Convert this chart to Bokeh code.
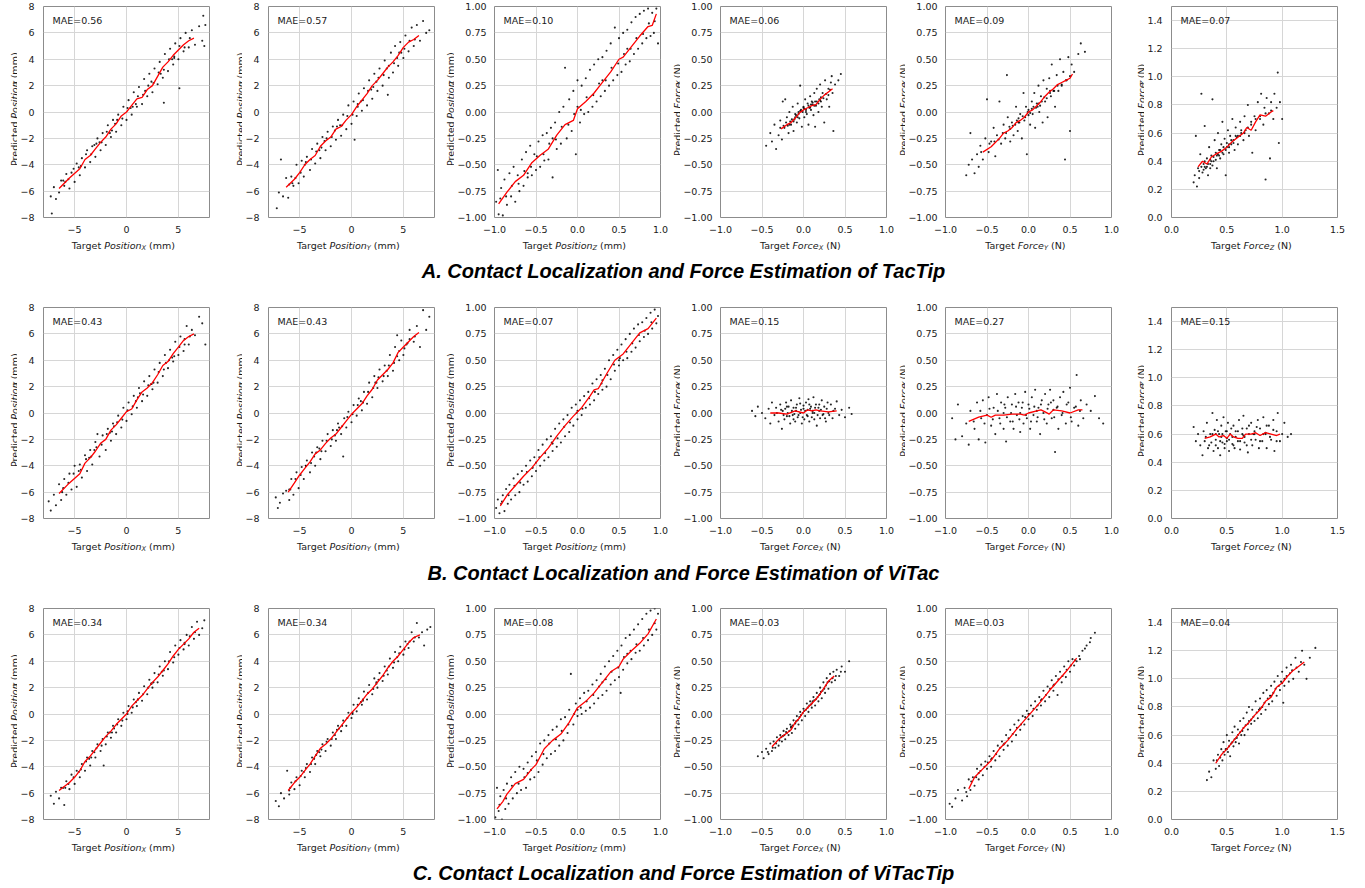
import math
from bokeh.plotting import figure
from bokeh.layouts import column, row
from bokeh.models import Range1d, FixedTicker, CustomJSTickFormatter, Label, ColumnDataSource
from bokeh.embed import file_html
from bokeh.resources import INLINE
from bokeh.core.properties import value

# ---------------- data ----------------
ROW_TITLES = ["A. Contact Localization and Force Estimation of TacTip",
              "B. Contact Localization and Force Estimation of ViTac",
              "C. Contact Localization and Force Estimation of ViTacTip"]
PANEL_KINDS = ["px", "py", "pz", "fx", "fy", "fz"]
MAE_TACTIP = [0.56, 0.57, 0.10, 0.06, 0.09, 0.07]
MAE_VITAC = [0.43, 0.43, 0.07, 0.15, 0.27, 0.15]
MAE_VITACTIP = [0.34, 0.34, 0.08, 0.03, 0.03, 0.04]

A_PX = [(-7.3,-6.4),(-7.0,-5.7),(-6.8,-6.6),(-6.5,-6.1),(-6.3,-5.2),(-6.0,-5.6),(-5.8,-4.7),(-5.5,-5.8),(-5.3,-4.6),(-5.0,-5.3),(-4.8,-3.9),(-4.5,-4.8),(-4.3,-3.5),(-4.0,-4.2),(-3.8,-2.9),(-3.5,-3.8),(-3.3,-2.6),(-3.0,-3.4),(-2.8,-2.0),(-2.5,-2.9),(-2.3,-1.6),(-2.0,-2.5),(-1.8,-1.0),(-1.5,-1.9),(-1.3,-0.6),(-1.0,-1.5),(-0.8,-0.2),(-0.5,-1.0),(-0.3,0.4),(0.0,-0.6),(0.2,0.9),(0.5,-0.2),(0.7,1.5),(1.0,0.4),(1.2,1.9),(1.5,0.6),(1.7,2.5),(2.0,1.2),(2.2,2.9),(2.5,1.5),(2.7,3.3),(3.0,2.1),(3.2,3.8),(3.5,2.6),(3.7,4.4),(4.0,3.1),(4.2,4.8),(4.5,3.6),(4.7,5.2),(5.0,4.0),(5.2,5.6),(5.5,4.6),(5.7,6.0),(6.0,4.9),(6.3,6.2),(6.6,5.1),(7.0,6.5),(7.3,5.4),(7.6,6.6),(5.1,1.8),(3.6,0.7),(7.5,5.0),(7.4,7.3),(-7.2,-7.7),(-2.6,-2.3),(-1.1,-0.9),(0.4,0.3),(1.8,1.6),(3.3,2.9),(4.6,4.2),(-4.6,-4.2),(-5.9,-5.3)]
A_PX_CORE = [(-6.1,-5.2),(-5.6,-5.1),(-5.1,-4.3),(-4.4,-4.1),(-3.9,-3.2),(-3.4,-3.2),(-2.9,-2.4),(-2.4,-2.3),(-1.9,-1.5),(-1.4,-1.4),(-0.9,-0.6),(-0.4,-0.5),(0.1,0.3),(0.6,0.4),(1.1,1.2),(1.6,1.3),(2.1,2.0),(2.6,2.2),(3.1,3.0),(3.6,3.2),(4.1,4.0),(4.6,4.1),(5.1,5.0),(5.6,4.9),(6.1,5.6),(-3.1,-2.5),(-1.6,-1.6),(0.9,0.6),(2.4,2.3),(4.4,4.0)]
A_PX_T = [(-6.5,-5.8),(-5.5,-5.0),(-4.5,-4.3),(-4.0,-3.6),(-3.5,-3.3),(-3.0,-2.8),(-2.5,-2.3),(-2.0,-1.9),(-1.5,-1.3),(-1.0,-0.9),(-0.5,-0.3),(0.0,0.0),(0.5,0.5),(1.0,1.0),(1.5,1.1),(2.0,1.7),(2.5,2.0),(3.0,2.7),(3.5,3.4),(4.0,3.8),(4.5,4.3),(5.0,4.7),(5.5,5.1),(6.0,5.4),(6.5,5.6)]
A_PY = [(-7.2,-7.3),(-7.0,-6.1),(-6.8,-3.6),(-6.6,-6.4),(-6.3,-5.0),(-6.1,-6.5),(-5.8,-4.9),(-5.6,-5.6),(-5.3,-4.0),(-5.1,-5.4),(-4.8,-3.7),(-4.6,-4.9),(-4.3,-3.4),(-4.0,-4.4),(-3.8,-2.8),(-3.5,-3.9),(-3.3,-2.4),(-3.0,-3.5),(-2.8,-1.9),(-2.5,-2.9),(-2.3,-1.5),(-2.0,-2.6),(-1.8,-1.1),(-1.5,-2.1),(-1.3,-0.6),(-1.0,-1.8),(-0.8,-0.2),(-0.5,-1.3),(-0.3,0.5),(0.0,-0.9),(0.3,-2.1),(0.2,0.8),(0.5,-0.3),(0.7,1.4),(1.0,0.1),(1.2,1.8),(1.5,0.5),(1.7,2.4),(2.0,1.0),(2.2,2.9),(2.5,1.6),(2.7,3.3),(3.0,2.0),(3.2,3.9),(3.5,1.3),(3.6,2.6),(3.8,4.5),(4.0,3.0),(4.2,5.0),(4.5,3.5),(4.7,5.3),(5.0,4.1),(5.2,5.8),(5.5,4.6),(5.8,6.4),(6.0,5.0),(6.3,6.6),(6.6,5.4),(6.9,6.9),(7.2,6.0),(7.5,6.2),(-2.6,-2.2),(-1.1,-1.0),(0.6,0.4),(1.9,1.7),(3.4,3.3),(4.8,4.5),(-4.5,-4.0),(-5.7,-5.4)]
A_PY_CORE = [(-6.0,-5.5),(-5.4,-5.0),(-4.9,-4.6),(-4.4,-3.8),(-3.9,-3.6),(-3.4,-3.0),(-2.9,-2.7),(-2.4,-2.0),(-1.9,-1.9),(-1.4,-1.1),(-0.9,-1.0),(-0.4,-0.3),(0.1,-0.2),(0.6,0.6),(1.1,0.9),(1.6,1.6),(2.1,1.9),(2.6,2.6),(3.1,2.8),(3.6,3.5),(4.1,3.7),(4.6,4.5),(5.1,4.8),(5.6,5.4),(6.1,5.5),(-3.1,-2.9),(-1.6,-1.4),(0.9,0.8),(2.4,2.3),(4.4,4.1)]
A_PY_T = [(-6.3,-5.7),(-5.5,-5.1),(-5.0,-4.6),(-4.5,-4.0),(-4.0,-3.6),(-3.5,-3.3),(-3.0,-2.6),(-2.5,-2.2),(-2.0,-1.9),(-1.5,-1.3),(-1.0,-1.1),(-0.5,-0.6),(0.0,-0.2),(0.5,0.4),(1.0,0.9),(1.5,1.4),(2.0,2.0),(2.5,2.4),(3.0,2.9),(3.5,3.4),(4.0,3.8),(4.5,4.3),(5.0,4.9),(5.5,5.3),(6.0,5.5),(6.5,5.8)]
A_PZ = [(-0.98,-0.85),(-0.96,-0.55),(-0.95,-0.97),(-0.92,-0.72),(-0.9,-0.98),(-0.88,-0.64),(-0.85,-0.88),(-0.82,-0.58),(-0.8,-0.8),(-0.77,-0.52),(-0.75,-0.85),(-0.72,-0.6),(-0.7,-0.75),(-0.67,-0.45),(-0.65,-0.7),(-0.62,-0.38),(-0.6,-0.62),(-0.57,-0.32),(-0.55,-0.6),(-0.52,-0.4),(-0.5,-0.55),(-0.47,-0.28),(-0.45,-0.52),(-0.42,-0.22),(-0.4,-0.46),(-0.37,-0.2),(-0.35,-0.45),(-0.32,-0.15),(-0.3,-0.62),(-0.27,-0.1),(-0.25,-0.35),(-0.22,0.0),(-0.2,-0.3),(-0.17,0.05),(-0.15,0.42),(-0.13,-0.25),(-0.1,0.12),(-0.07,-0.18),(-0.05,0.2),(-0.02,-0.4),(0.0,0.3),(0.03,-0.1),(0.05,0.25),(0.08,-0.02),(0.1,0.32),(0.13,0.0),(0.15,0.4),(0.18,0.05),(0.2,0.45),(0.23,0.1),(0.25,0.5),(0.28,0.15),(0.3,0.52),(0.33,0.2),(0.35,0.58),(0.38,0.25),(0.4,0.65),(0.43,0.3),(0.45,0.8),(0.48,0.35),(0.5,0.7),(0.53,0.38),(0.55,0.75),(0.58,0.45),(0.6,0.78),(0.63,0.48),(0.65,0.85),(0.68,0.55),(0.7,0.9),(0.73,0.6),(0.75,0.93),(0.78,0.65),(0.8,0.96),(0.83,0.7),(0.85,0.98),(0.88,0.72),(0.9,0.94),(0.92,0.75),(0.95,0.98),(0.97,0.65)]
A_PZ_CORE = [(-0.93,-0.82),(-0.86,-0.8),(-0.79,-0.7),(-0.71,-0.68),(-0.64,-0.56),(-0.56,-0.52),(-0.49,-0.42),(-0.41,-0.4),(-0.34,-0.3),(-0.26,-0.26),(-0.19,-0.14),(-0.11,-0.12),(-0.04,-0.02),(0.04,0.02),(0.11,0.14),(0.19,0.16),(0.26,0.27),(0.34,0.3),(0.41,0.42),(0.49,0.46),(0.56,0.55),(0.64,0.6),(0.71,0.7),(0.79,0.74),(0.86,0.84),(0.93,0.86),(-0.6,-0.58),(-0.3,-0.25),(0.0,0.05),(0.3,0.3),(0.6,0.6)]
A_PZ_T = [(-0.95,-0.87),(-0.85,-0.76),(-0.75,-0.66),(-0.65,-0.6),(-0.55,-0.48),(-0.45,-0.41),(-0.35,-0.35),(-0.25,-0.22),(-0.15,-0.12),(-0.05,-0.08),(0.0,0.03),(0.1,0.1),(0.2,0.18),(0.3,0.28),(0.4,0.38),(0.5,0.5),(0.55,0.52),(0.65,0.62),(0.75,0.72),(0.85,0.81),(0.9,0.82),(0.95,0.93)]
A_FX = [(-0.45,-0.32),(-0.4,-0.2),(-0.38,-0.28),(-0.35,-0.12),(-0.33,-0.35),(-0.3,-0.22),(-0.28,-0.08),(-0.26,-0.26),(-0.25,0.1),(-0.23,-0.15),(-0.2,-0.05),(-0.18,-0.2),(-0.17,0.0),(-0.15,-0.12),(-0.13,0.05),(-0.12,-0.18),(-0.1,-0.02),(-0.08,-0.1),(-0.07,0.08),(-0.05,-0.06),(-0.04,0.25),(-0.03,0.02),(-0.02,-0.14),(0.0,0.05),(0.01,-0.05),(0.02,0.12),(0.04,-0.02),(0.05,0.08),(0.06,-0.12),(0.08,0.15),(0.09,0.02),(0.1,0.1),(0.12,-0.03),(0.13,0.18),(0.15,0.06),(0.16,0.22),(0.18,0.0),(0.19,0.12),(0.2,0.26),(0.22,0.05),(0.23,0.18),(0.25,-0.1),(0.26,0.3),(0.28,0.12),(0.3,0.22),(0.31,0.05),(0.33,0.28),(0.35,0.18),(0.36,-0.18),(0.38,0.26),(0.42,0.3),(0.45,0.36),(0.34,0.34),(-0.22,0.12),(0.14,-0.14),(-0.06,0.0),(0.07,0.04),(0.11,0.07),(-0.11,-0.07),(0.21,0.1),(-0.16,-0.09),(0.03,0.0)]
A_FX_CORE = [(-0.28,-0.15),(-0.24,-0.13),(-0.21,-0.1),(-0.19,-0.13),(-0.14,-0.07),(-0.12,-0.09),(-0.09,-0.03),(-0.07,-0.05),(-0.04,0.01),(-0.01,0.0),(0.01,0.03),(0.03,0.02),(0.06,0.06),(0.08,0.04),(0.11,0.09),(0.13,0.06),(0.16,0.1),(0.18,0.08),(0.21,0.14),(0.24,0.13),(0.27,0.17),(0.3,0.16),(0.32,0.21),(-0.17,-0.12),(0.0,0.04),(0.14,0.1),(-0.06,-0.02),(0.09,0.07),(0.2,0.11),(-0.1,-0.05)]
A_FX_T = [(-0.27,-0.16),(-0.2,-0.12),(-0.15,-0.1),(-0.1,-0.06),(-0.05,-0.01),(0.0,0.02),(0.05,0.04),(0.1,0.06),(0.15,0.07),(0.2,0.12),(0.25,0.16),(0.3,0.19),(0.35,0.22)]
A_FY = [(-0.75,-0.6),(-0.72,-0.5),(-0.7,-0.2),(-0.68,-0.45),(-0.65,-0.58),(-0.62,-0.4),(-0.6,-0.52),(-0.58,-0.32),(-0.55,-0.45),(-0.52,-0.25),(-0.5,0.12),(-0.48,-0.38),(-0.45,-0.28),(-0.42,-0.15),(-0.4,-0.42),(-0.38,-0.22),(-0.35,0.1),(-0.33,-0.3),(-0.3,-0.12),(-0.28,-0.25),(-0.26,0.35),(-0.25,-0.05),(-0.22,-0.28),(-0.2,-0.1),(-0.18,-0.22),(-0.15,0.05),(-0.13,-0.18),(-0.1,-0.02),(-0.08,-0.25),(-0.06,0.18),(-0.05,-0.08),(-0.03,0.05),(-0.02,-0.4),(0.0,0.02),(0.02,-0.12),(0.04,0.1),(0.05,-0.02),(0.07,0.18),(0.08,-0.15),(0.1,0.08),(0.12,0.25),(0.13,0.0),(0.15,0.15),(0.17,-0.1),(0.18,0.3),(0.2,0.1),(0.22,0.22),(0.23,-0.05),(0.25,0.32),(0.27,0.15),(0.28,0.45),(0.3,0.2),(0.32,0.05),(0.34,0.35),(0.36,0.2),(0.38,0.5),(0.4,0.25),(0.42,0.38),(0.44,-0.45),(0.46,0.3),(0.48,0.52),(0.5,-0.18),(0.52,0.45),(0.55,0.38),(0.6,0.55),(0.63,0.65),(0.68,0.57),(-0.12,-0.1),(0.0,-0.03),(0.11,0.05),(-0.22,-0.16),(0.26,0.18)]
A_FY_CORE = [(-0.57,-0.38),(-0.47,-0.3),(-0.41,-0.28),(-0.36,-0.26),(-0.31,-0.2),(-0.27,-0.2),(-0.23,-0.14),(-0.19,-0.13),(-0.16,-0.12),(-0.14,-0.08),(-0.11,-0.1),(-0.07,-0.04),(-0.04,-0.05),(-0.01,0.0),(0.02,-0.01),(0.06,0.05),(0.09,0.04),(0.12,0.08),(0.16,0.1),(0.19,0.14),(0.22,0.13),(0.26,0.2),(0.31,0.2),(0.35,0.25),(0.4,0.26),(0.45,0.3),(0.5,0.34),(-0.12,-0.06),(0.04,0.03),(0.14,0.06)]
A_FY_T = [(-0.55,-0.38),(-0.45,-0.33),(-0.35,-0.25),(-0.3,-0.2),(-0.25,-0.18),(-0.2,-0.15),(-0.15,-0.1),(-0.1,-0.08),(-0.05,-0.05),(0.0,0.0),(0.05,0.02),(0.1,0.06),(0.15,0.1),(0.2,0.15),(0.25,0.19),(0.3,0.22),(0.35,0.26),(0.4,0.28),(0.45,0.3),(0.5,0.32),(0.53,0.36)]
A_FZ = [(0.2,0.25),(0.21,0.3),(0.22,0.58),(0.23,0.22),(0.24,0.35),(0.25,0.28),(0.26,0.45),(0.27,0.88),(0.28,0.32),(0.29,0.38),(0.3,0.65),(0.31,0.35),(0.32,0.42),(0.33,0.3),(0.34,0.5),(0.35,0.38),(0.36,0.44),(0.37,0.84),(0.38,0.4),(0.39,0.55),(0.4,0.46),(0.41,0.35),(0.42,0.6),(0.43,0.48),(0.44,0.42),(0.45,0.52),(0.46,0.68),(0.47,0.45),(0.48,0.56),(0.49,0.3),(0.5,0.5),(0.51,0.62),(0.52,0.46),(0.53,0.58),(0.54,0.52),(0.55,0.7),(0.56,0.55),(0.57,0.48),(0.58,0.64),(0.59,0.57),(0.6,0.52),(0.62,0.68),(0.63,0.6),(0.65,0.55),(0.66,0.72),(0.67,0.62),(0.69,0.8),(0.7,0.58),(0.72,0.68),(0.73,0.46),(0.75,0.72),(0.76,0.62),(0.78,0.82),(0.8,0.7),(0.81,0.88),(0.83,0.66),(0.84,0.78),(0.85,0.27),(0.86,0.85),(0.88,0.74),(0.89,0.42),(0.9,0.82),(0.92,0.7),(0.93,0.88),(0.95,0.78),(0.96,1.03),(0.97,0.53),(0.98,0.82),(1.0,0.7),(0.3,0.36),(0.35,0.41),(0.42,0.45),(0.52,0.5),(0.62,0.58)]
A_FZ_CORE = [(0.25,0.33),(0.27,0.36),(0.29,0.34),(0.3,0.4),(0.32,0.36),(0.33,0.38),(0.35,0.35),(0.36,0.4),(0.37,0.37),(0.38,0.43),(0.4,0.41),(0.41,0.44),(0.43,0.44),(0.44,0.48),(0.46,0.46),(0.47,0.5),(0.49,0.48),(0.5,0.53),(0.52,0.52),(0.54,0.55),(0.56,0.53),(0.58,0.58),(0.6,0.58),(0.63,0.62),(0.66,0.6),(0.69,0.64),(0.72,0.66),(0.76,0.7),(0.8,0.72),(0.85,0.74),(0.9,0.76)]
A_FZ_T = [(0.24,0.36),(0.28,0.4),(0.32,0.38),(0.36,0.43),(0.4,0.45),(0.45,0.47),(0.5,0.5),(0.55,0.54),(0.6,0.57),(0.65,0.6),(0.68,0.64),(0.72,0.62),(0.76,0.68),(0.8,0.73),(0.85,0.72),(0.9,0.75),(0.92,0.76)]

B_PX = [(-7.5,-6.7),(-7.3,-7.4),(-7.0,-6.2),(-6.8,-7.0),(-6.5,-5.4),(-6.3,-6.6),(-6.0,-5.0),(-5.8,-6.2),(-5.5,-4.6),(-5.3,-5.8),(-5.0,-4.0),(-4.8,-5.6),(-4.5,-3.9),(-4.3,-4.9),(-4.0,-3.2),(-3.8,-4.4),(-3.5,-2.8),(-3.3,-3.9),(-3.0,-2.2),(-2.8,-1.6),(-2.6,-3.3),(-2.3,-1.7),(-2.0,-2.8),(-1.8,-1.2),(-1.5,-2.1),(-1.3,-0.8),(-1.0,-1.6),(-0.8,-0.2),(-0.5,-1.1),(-0.3,0.4),(0.0,-0.6),(0.2,0.8),(0.5,-0.1),(0.7,1.3),(1.0,0.4),(1.2,1.9),(1.5,0.9),(1.7,2.4),(2.0,1.3),(2.2,2.8),(2.5,1.8),(2.7,3.3),(3.0,2.3),(3.2,3.8),(3.5,2.8),(3.7,4.4),(4.0,3.4),(4.2,4.8),(4.5,3.9),(4.7,5.4),(5.0,4.4),(5.2,5.8),(5.5,4.7),(5.8,6.6),(6.0,5.2),(6.3,6.3),(6.6,5.9),(7.0,7.3),(7.3,6.8),(7.6,5.2),(-6.2,-6.0),(-3.6,-3.4),(-1.2,-1.0),(1.3,1.5),(3.8,3.8),(5.6,5.6),(-4.6,-4.4),(2.4,2.2)]
B_PX_CORE = [(-6.1,-5.7),(-5.6,-5.3),(-5.1,-4.6),(-4.4,-4.3),(-3.9,-3.5),(-3.4,-3.3),(-2.9,-2.6),(-2.4,-2.4),(-1.9,-1.6),(-1.4,-1.4),(-0.9,-0.7),(-0.4,-0.5),(0.1,0.2),(0.6,0.5),(1.1,1.2),(1.6,1.4),(2.1,2.1),(2.6,2.3),(3.1,3.1),(3.6,3.3),(4.1,4.0),(4.6,4.3),(5.1,5.0),(5.6,5.2),(6.1,5.8),(-3.1,-2.8),(-1.6,-1.5),(0.9,0.9),(2.4,2.2),(4.4,4.2)]
B_PX_T = [(-6.5,-6.1),(-5.5,-5.3),(-4.5,-4.6),(-4.0,-3.8),(-3.5,-3.4),(-3.0,-2.9),(-2.5,-2.3),(-2.0,-2.0),(-1.5,-1.3),(-1.0,-0.9),(-0.5,-0.4),(0.0,0.1),(0.5,0.3),(1.0,1.0),(1.5,1.6),(2.0,1.9),(2.5,2.3),(3.0,2.9),(3.5,3.6),(4.0,3.9),(4.5,4.5),(5.0,5.0),(5.5,5.5),(6.0,5.8),(6.5,6.0)]
B_PY = [(-7.3,-6.4),(-7.1,-7.2),(-6.9,-6.8),(-6.6,-6.1),(-6.3,-5.9),(-6.0,-6.6),(-5.8,-5.0),(-5.6,-6.2),(-5.3,-4.5),(-5.1,-5.7),(-4.8,-4.1),(-4.6,-5.0),(-4.3,-3.6),(-4.0,-4.5),(-3.8,-3.0),(-3.5,-4.0),(-3.3,-2.6),(-3.0,-3.5),(-2.8,-2.1),(-2.5,-2.9),(-2.3,-1.6),(-2.0,-2.5),(-1.8,-1.3),(-1.5,-2.1),(-1.3,-0.8),(-1.0,-1.6),(-0.8,-3.3),(-0.7,-0.4),(-0.5,-1.1),(-0.3,0.1),(0.0,-0.7),(0.2,0.6),(0.5,-0.2),(0.7,1.1),(1.0,0.2),(1.2,1.6),(1.5,0.7),(1.7,2.3),(2.0,1.2),(2.2,2.8),(2.5,1.9),(2.7,3.3),(3.0,2.4),(3.2,3.6),(3.5,2.8),(3.7,4.4),(4.0,3.2),(4.2,5.0),(4.4,5.9),(4.6,4.0),(4.8,5.5),(5.0,4.4),(5.3,5.2),(5.6,6.3),(6.0,5.4),(6.3,6.6),(6.6,5.0),(6.9,7.8),(7.2,6.3),(7.5,7.3),(-5.9,-5.8),(-3.6,-3.3),(-1.2,-1.1),(1.1,0.8),(3.4,3.2),(5.4,5.3),(-4.4,-4.0),(2.3,2.3)]
B_PY_CORE = [(-6.0,-5.8),(-5.4,-5.0),(-4.9,-4.7),(-4.4,-4.0),(-3.9,-3.8),(-3.4,-3.0),(-2.9,-2.9),(-2.4,-2.1),(-1.9,-2.0),(-1.4,-1.3),(-0.9,-1.0),(-0.4,-0.3),(0.1,-0.1),(0.6,0.6),(1.1,0.8),(1.6,1.6),(2.1,1.9),(2.6,2.7),(3.1,2.8),(3.6,3.6),(4.1,3.8),(4.6,4.7),(5.1,4.9),(5.6,5.6),(6.1,5.8),(-3.1,-2.7),(-1.6,-1.7),(0.9,0.9),(2.4,2.3),(4.4,4.3)]
B_PY_T = [(-6.1,-6.0),(-5.5,-5.3),(-5.0,-4.7),(-4.5,-4.2),(-4.0,-3.7),(-3.5,-3.1),(-3.0,-2.8),(-2.5,-2.3),(-2.0,-1.9),(-1.5,-1.6),(-1.0,-1.1),(-0.5,-0.6),(0.0,-0.1),(0.5,0.3),(1.0,0.7),(1.5,1.3),(2.0,1.8),(2.5,2.5),(3.0,2.9),(3.5,3.3),(4.0,3.8),(4.5,4.6),(5.0,5.0),(5.5,5.4),(6.0,5.8),(6.5,6.1)]
B_PZ = [(-0.98,-0.9),(-0.96,-0.82),(-0.94,-0.95),(-0.92,-0.86),(-0.9,-0.78),(-0.88,-0.93),(-0.86,-0.72),(-0.84,-0.86),(-0.82,-0.68),(-0.8,-0.82),(-0.77,-0.62),(-0.75,-0.78),(-0.72,-0.58),(-0.7,-0.75),(-0.67,-0.55),(-0.65,-0.68),(-0.62,-0.5),(-0.6,-0.65),(-0.57,-0.45),(-0.55,-0.6),(-0.52,-0.42),(-0.5,-0.55),(-0.47,-0.35),(-0.45,-0.5),(-0.42,-0.3),(-0.4,-0.45),(-0.37,-0.25),(-0.35,-0.42),(-0.32,-0.22),(-0.3,-0.36),(-0.27,-0.15),(-0.25,-0.32),(-0.22,-0.1),(-0.2,-0.28),(-0.17,-0.06),(-0.15,-0.22),(-0.12,-0.02),(-0.1,-0.18),(-0.07,0.05),(-0.05,-0.12),(-0.02,0.08),(0.0,-0.06),(0.03,0.12),(0.05,-0.02),(0.08,0.16),(0.1,0.05),(0.13,0.2),(0.15,0.08),(0.18,0.28),(0.2,0.12),(0.23,0.32),(0.25,0.18),(0.28,0.36),(0.3,0.22),(0.33,0.42),(0.35,0.25),(0.38,0.5),(0.4,0.32),(0.43,0.55),(0.45,0.4),(0.48,0.6),(0.5,0.45),(0.53,0.65),(0.55,0.5),(0.58,0.7),(0.6,0.52),(0.63,0.75),(0.65,0.58),(0.68,0.8),(0.7,0.62),(0.73,0.84),(0.75,0.68),(0.78,0.86),(0.8,0.72),(0.83,0.9),(0.85,0.75),(0.88,0.95),(0.9,0.8),(0.93,0.98),(0.95,0.85),(0.97,0.92)]
B_PZ_CORE = [(-0.91,-0.84),(-0.83,-0.78),(-0.76,-0.69),(-0.69,-0.66),(-0.61,-0.56),(-0.54,-0.52),(-0.46,-0.42),(-0.39,-0.38),(-0.31,-0.28),(-0.24,-0.24),(-0.16,-0.13),(-0.09,-0.09),(-0.01,0.0),(0.06,0.04),(0.14,0.14),(0.21,0.2),(0.29,0.28),(0.36,0.36),(0.44,0.46),(0.51,0.52),(0.59,0.58),(0.66,0.66),(0.74,0.74),(0.81,0.78),(0.89,0.86),(-0.5,-0.47),(0.0,0.02),(0.5,0.5),(0.3,0.31),(-0.3,-0.29)]
B_PZ_T = [(-0.93,-0.88),(-0.85,-0.78),(-0.75,-0.69),(-0.65,-0.6),(-0.55,-0.52),(-0.45,-0.42),(-0.35,-0.33),(-0.25,-0.22),(-0.15,-0.12),(-0.05,-0.03),(0.05,0.05),(0.15,0.16),(0.2,0.22),(0.25,0.23),(0.35,0.37),(0.45,0.5),(0.55,0.56),(0.65,0.66),(0.75,0.76),(0.85,0.8),(0.95,0.9)]
B_FX = [(-0.62,0.02),(-0.58,-0.03),(-0.55,0.06),(-0.5,0.0),(-0.46,-0.05),(-0.42,0.04),(-0.4,-0.1),(-0.38,0.1),(-0.35,-0.02),(-0.33,0.05),(-0.3,-0.08),(-0.28,0.08),(-0.26,-0.15),(-0.25,0.02),(-0.23,-0.06),(-0.21,0.1),(-0.2,-0.03),(-0.18,0.06),(-0.16,-0.1),(-0.15,0.12),(-0.13,-0.02),(-0.12,0.05),(-0.1,-0.08),(-0.08,0.08),(-0.07,-0.04),(-0.05,0.14),(-0.04,0.0),(-0.02,-0.1),(0.0,0.04),(0.01,-0.06),(0.03,0.1),(0.04,-0.02),(0.06,0.13),(0.07,-0.08),(0.09,0.06),(0.1,-0.04),(0.12,0.15),(0.13,0.0),(0.15,0.08),(0.16,-0.12),(0.18,0.05),(0.2,-0.05),(0.22,0.12),(0.23,-0.02),(0.25,0.06),(0.27,-0.08),(0.29,0.1),(0.3,0.0),(0.33,0.08),(0.35,-0.05),(0.38,0.04),(0.4,0.11),(0.43,-0.02),(0.46,0.03),(0.5,-0.04),(0.55,0.05),(0.58,-0.01),(-0.09,0.02),(0.05,0.03),(0.19,0.02),(-0.19,0.0),(0.11,0.02)]
B_FX_CORE = [(-0.32,0.0),(-0.27,0.03),(-0.24,-0.02),(-0.22,0.04),(-0.17,-0.03),(-0.14,0.02),(-0.11,-0.01),(-0.09,0.05),(-0.06,-0.02),(-0.03,0.03),(-0.01,-0.04),(0.02,0.02),(0.05,-0.03),(0.08,0.04),(0.11,0.0),(0.14,0.05),(0.17,-0.02),(0.21,0.03),(0.24,-0.01),(0.28,0.04),(0.31,-0.02),(0.36,0.02),(-0.2,0.06),(0.0,0.07),(0.13,-0.06),(-0.12,-0.06),(0.07,0.08),(-0.04,0.09),(0.19,0.08),(0.26,-0.05)]
B_FX_T = [(-0.4,0.0),(-0.3,0.0),(-0.2,-0.01),(-0.1,0.02),(0.0,0.0),(0.05,0.03),(0.1,0.02),(0.15,0.03),(0.2,0.02),(0.3,0.01),(0.4,0.02)]
B_FY = [(-0.92,-0.05),(-0.88,-0.25),(-0.85,0.08),(-0.8,-0.22),(-0.75,-0.1),(-0.72,-0.3),(-0.7,0.02),(-0.65,-0.15),(-0.62,0.1),(-0.6,-0.25),(-0.57,-0.05),(-0.55,0.12),(-0.52,-0.28),(-0.5,-0.02),(-0.48,0.15),(-0.45,-0.12),(-0.42,0.05),(-0.4,-0.2),(-0.38,0.18),(-0.35,-0.05),(-0.33,0.1),(-0.3,-0.15),(-0.28,0.05),(-0.27,-0.27),(-0.25,0.15),(-0.22,-0.08),(-0.2,0.08),(-0.18,-0.15),(-0.16,0.18),(-0.14,-0.02),(-0.12,0.1),(-0.1,-0.18),(-0.08,0.05),(-0.06,-0.1),(-0.04,0.2),(-0.02,-0.05),(0.0,0.08),(0.02,-0.15),(0.04,0.15),(0.06,-0.02),(0.08,0.22),(0.1,-0.08),(0.12,0.05),(0.14,-0.2),(0.16,0.12),(0.18,0.0),(0.2,0.18),(0.22,-0.1),(0.24,0.08),(0.26,0.22),(0.28,-0.05),(0.3,0.12),(0.32,-0.37),(0.34,0.05),(0.36,-0.15),(0.38,0.15),(0.4,-0.02),(0.42,0.2),(0.45,-0.1),(0.48,0.1),(0.5,0.24),(0.52,-0.08),(0.55,0.05),(0.58,0.36),(0.6,-0.12),(0.63,0.12),(0.66,-0.05),(0.7,0.08),(0.75,0.02),(0.8,0.16),(0.85,-0.05),(0.9,-0.1),(-0.3,0.0),(-0.1,0.0),(0.1,0.02),(0.3,0.03)]
B_FY_CORE = [(-0.66,-0.08),(-0.58,0.02),(-0.53,-0.1),(-0.47,0.04),(-0.43,-0.06),(-0.37,0.02),(-0.34,-0.1),(-0.29,0.08),(-0.26,-0.04),(-0.21,0.0),(-0.19,-0.08),(-0.15,0.06),(-0.11,-0.06),(-0.07,0.1),(-0.03,-0.02),(0.01,0.04),(0.03,-0.08),(0.07,0.06),(0.11,-0.04),(0.15,0.08),(0.19,-0.06),(0.23,0.04),(0.27,0.1),(0.31,-0.04),(0.35,0.06),(0.41,0.0),(0.46,0.08),(0.51,-0.04),(0.57,0.06),(0.62,0.02)]
B_FY_T = [(-0.72,-0.08),(-0.6,-0.04),(-0.5,-0.02),(-0.45,-0.04),(-0.4,-0.02),(-0.3,-0.02),(-0.2,-0.01),(-0.1,-0.01),(-0.05,-0.02),(0.0,0.0),(0.1,0.02),(0.15,0.03),(0.2,0.01),(0.25,-0.01),(0.3,0.03),(0.4,0.02),(0.5,0.0),(0.6,0.03),(0.65,0.03)]
B_FZ = [(0.2,0.65),(0.22,0.55),(0.24,0.6),(0.26,0.52),(0.28,0.45),(0.29,0.62),(0.3,0.55),(0.32,0.68),(0.33,0.5),(0.35,0.6),(0.36,0.54),(0.37,0.75),(0.38,0.48),(0.39,0.63),(0.4,0.56),(0.41,0.7),(0.42,0.5),(0.43,0.6),(0.44,0.45),(0.45,0.66),(0.46,0.54),(0.47,0.72),(0.48,0.5),(0.49,0.62),(0.5,0.57),(0.51,0.68),(0.52,0.48),(0.53,0.6),(0.55,0.53),(0.56,0.66),(0.57,0.5),(0.58,0.62),(0.6,0.55),(0.61,0.7),(0.62,0.49),(0.64,0.6),(0.65,0.73),(0.66,0.54),(0.68,0.64),(0.69,0.47),(0.7,0.6),(0.72,0.68),(0.73,0.52),(0.75,0.62),(0.76,0.56),(0.78,0.7),(0.79,0.5),(0.8,0.64),(0.82,0.55),(0.83,0.72),(0.85,0.6),(0.86,0.5),(0.88,0.66),(0.9,0.56),(0.92,0.7),(0.93,0.48),(0.95,0.62),(0.96,0.75),(0.98,0.55),(1.0,0.6),(1.02,0.68),(1.05,0.58),(1.08,0.6),(0.45,0.58),(0.55,0.58),(0.65,0.59),(0.75,0.6),(0.85,0.61)]
B_FZ_CORE = [(0.31,0.58),(0.34,0.52),(0.37,0.6),(0.4,0.52),(0.42,0.62),(0.44,0.55),(0.46,0.6),(0.48,0.53),(0.5,0.62),(0.52,0.56),(0.54,0.64),(0.56,0.52),(0.58,0.58),(0.6,0.62),(0.62,0.55),(0.64,0.64),(0.66,0.58),(0.68,0.52),(0.7,0.66),(0.72,0.56),(0.74,0.6),(0.77,0.65),(0.8,0.55),(0.83,0.6),(0.86,0.66),(0.89,0.58),(0.92,0.63),(0.95,0.55),(0.4,0.6),(0.5,0.55)]
B_FZ_T = [(0.3,0.57),(0.35,0.58),(0.4,0.6),(0.43,0.58),(0.47,0.59),(0.5,0.57),(0.53,0.6),(0.56,0.58),(0.6,0.57),(0.64,0.57),(0.67,0.6),(0.72,0.6),(0.76,0.61),(0.8,0.59),(0.85,0.61),(0.9,0.6),(0.95,0.59),(0.98,0.6)]

C_PX = [(-7.3,-6.2),(-7.0,-6.8),(-6.8,-5.9),(-6.5,-6.4),(-6.3,-5.6),(-6.0,-6.9),(-5.8,-5.1),(-5.5,-5.7),(-5.3,-4.6),(-5.0,-5.3),(-4.8,-4.3),(-4.5,-4.8),(-4.3,-3.8),(-4.0,-4.3),(-3.8,-3.3),(-3.5,-3.9),(-3.3,-2.8),(-3.0,-3.3),(-2.8,-2.3),(-2.5,-2.8),(-2.3,-1.9),(-2.2,-3.9),(-2.0,-2.3),(-1.8,-1.4),(-1.5,-1.8),(-1.3,-0.9),(-1.0,-1.4),(-0.8,-0.4),(-0.5,-0.9),(-0.3,0.1),(0.0,-0.4),(0.2,0.6),(0.5,0.1),(0.7,1.1),(1.0,0.6),(1.2,1.6),(1.5,1.0),(1.7,2.1),(2.0,1.5),(2.2,2.6),(2.5,2.0),(2.7,3.1),(3.0,2.4),(3.2,3.6),(3.5,2.9),(3.7,4.0),(4.0,3.4),(4.2,4.7),(4.5,3.9),(4.7,5.2),(5.0,4.5),(5.2,5.6),(5.5,4.9),(5.8,6.0),(6.0,5.2),(6.3,6.6),(6.5,5.7),(6.8,7.0),(7.0,6.0),(7.3,6.5),(7.5,7.1),(-5.9,-5.6),(-3.6,-3.4),(-1.2,-1.1),(1.1,1.1),(3.4,3.2),(5.6,5.4),(-4.6,-4.4),(2.4,2.3),(0.1,0.0)]
C_PX_CORE = [(-6.1,-5.6),(-5.6,-5.3),(-5.1,-4.8),(-4.4,-4.2),(-3.9,-3.6),(-3.4,-3.3),(-2.9,-2.6),(-2.4,-2.4),(-1.9,-1.7),(-1.4,-1.4),(-0.9,-0.8),(-0.4,-0.5),(0.1,0.2),(0.6,0.5),(1.1,1.1),(1.6,1.5),(2.1,2.0),(2.6,2.4),(3.1,3.0),(3.6,3.3),(4.1,4.0),(4.6,4.3),(5.1,5.0),(5.6,5.3),(6.1,5.9),(6.6,6.2),(-3.1,-2.9),(-1.6,-1.4),(0.9,0.9),(2.4,2.3)]
C_PX_T = [(-6.5,-5.8),(-5.5,-5.2),(-5.0,-4.8),(-4.5,-4.3),(-4.0,-3.6),(-3.5,-3.2),(-3.0,-2.7),(-2.5,-2.2),(-2.0,-1.7),(-1.5,-1.3),(-1.0,-0.8),(-0.5,-0.4),(0.0,0.0),(0.5,0.6),(1.0,1.0),(1.5,1.4),(2.0,1.9),(2.5,2.4),(3.0,2.8),(3.5,3.3),(4.0,3.8),(4.5,4.4),(5.0,4.9),(5.5,5.3),(6.0,5.7),(6.5,6.2),(7.0,6.5)]
C_PY = [(-7.3,-6.6),(-7.0,-7.0),(-6.8,-6.0),(-6.5,-6.4),(-6.2,-4.3),(-6.0,-6.1),(-5.8,-5.2),(-5.5,-5.7),(-5.3,-4.8),(-5.0,-5.4),(-4.8,-4.3),(-4.5,-4.8),(-4.3,-3.8),(-4.0,-4.4),(-3.8,-3.3),(-3.5,-3.8),(-3.3,-2.8),(-3.0,-3.2),(-2.8,-2.3),(-2.5,-2.8),(-2.3,-1.9),(-2.0,-2.4),(-1.8,-1.4),(-1.5,-1.9),(-1.3,-0.9),(-1.0,-1.3),(-0.8,-0.5),(-0.5,-0.9),(-0.3,0.1),(0.0,-0.3),(0.2,0.7),(0.5,0.2),(0.7,1.2),(1.0,0.7),(1.2,1.7),(1.5,1.1),(1.7,2.2),(2.0,1.5),(2.2,2.7),(2.5,2.0),(2.7,3.1),(3.0,2.5),(3.2,3.6),(3.5,3.0),(3.7,4.2),(4.0,3.5),(4.2,4.7),(4.5,4.0),(4.7,5.1),(5.0,4.5),(5.2,5.5),(5.5,5.0),(5.8,6.2),(6.0,5.5),(6.3,6.9),(6.5,5.8),(6.8,6.2),(7.0,5.2),(7.3,6.4),(7.6,6.6),(-5.9,-5.6),(-3.6,-3.4),(-1.2,-1.1),(1.1,1.1),(3.4,3.3),(5.4,5.3),(-4.6,-4.4),(2.4,2.4),(0.1,0.1)]
C_PY_CORE = [(-6.0,-5.8),(-5.4,-5.1),(-4.9,-4.7),(-4.4,-4.1),(-3.9,-3.8),(-3.4,-3.1),(-2.9,-2.7),(-2.4,-2.1),(-1.9,-1.9),(-1.4,-1.2),(-0.9,-0.9),(-0.4,-0.3),(0.1,0.0),(0.6,0.7),(1.1,1.0),(1.6,1.6),(2.1,1.9),(2.6,2.6),(3.1,2.9),(3.6,3.6),(4.1,3.9),(4.6,4.6),(5.1,4.9),(5.6,5.5),(6.1,5.8),(-3.1,-2.9),(-1.6,-1.6),(0.9,0.9),(2.4,2.3),(4.4,4.3)]
C_PY_T = [(-6.1,-5.8),(-5.5,-5.2),(-5.0,-4.8),(-4.5,-4.3),(-4.0,-3.8),(-3.5,-3.2),(-3.0,-2.6),(-2.5,-2.3),(-2.0,-1.9),(-1.5,-1.4),(-1.0,-0.9),(-0.5,-0.4),(0.0,0.1),(0.5,0.5),(1.0,1.0),(1.5,1.5),(2.0,1.9),(2.5,2.4),(3.0,2.9),(3.5,3.5),(4.0,4.0),(4.5,4.4),(5.0,4.9),(5.5,5.4),(6.0,5.8),(6.6,6.0)]
C_PZ = [(-0.99,-0.98),(-0.97,-0.7),(-0.95,-0.92),(-0.93,-0.78),(-0.91,-1.0),(-0.89,-0.72),(-0.87,-0.9),(-0.85,-0.66),(-0.83,-0.85),(-0.8,-0.6),(-0.78,-0.8),(-0.75,-0.55),(-0.73,-0.75),(-0.7,-0.5),(-0.68,-0.72),(-0.65,-0.52),(-0.62,-0.7),(-0.6,-0.46),(-0.57,-0.62),(-0.55,-0.4),(-0.52,-0.6),(-0.5,-0.36),(-0.47,-0.55),(-0.45,-0.28),(-0.42,-0.48),(-0.4,-0.25),(-0.37,-0.42),(-0.35,-0.2),(-0.32,-0.38),(-0.3,-0.15),(-0.27,-0.35),(-0.25,-0.12),(-0.22,-0.3),(-0.2,-0.05),(-0.17,-0.25),(-0.15,-0.03),(-0.12,-0.18),(-0.1,0.04),(-0.08,0.38),(-0.05,-0.1),(-0.02,0.1),(0.0,-0.02),(0.03,0.15),(0.05,0.0),(0.08,0.2),(0.1,0.03),(0.13,0.22),(0.15,0.06),(0.18,0.28),(0.2,0.1),(0.23,0.32),(0.25,0.15),(0.28,0.38),(0.3,0.18),(0.33,0.45),(0.35,0.22),(0.38,0.5),(0.4,0.28),(0.43,0.55),(0.45,0.32),(0.48,0.6),(0.5,0.35),(0.52,0.2),(0.53,0.65),(0.55,0.42),(0.58,0.72),(0.6,0.48),(0.63,0.75),(0.65,0.52),(0.68,0.8),(0.7,0.58),(0.73,0.85),(0.75,0.6),(0.78,0.9),(0.8,0.65),(0.83,0.95),(0.85,0.7),(0.88,0.98),(0.9,0.75),(0.93,1.0),(0.95,0.8),(0.97,0.95)]
C_PZ_CORE = [(-0.94,-0.86),(-0.86,-0.8),(-0.79,-0.68),(-0.71,-0.66),(-0.64,-0.6),(-0.56,-0.53),(-0.49,-0.44),(-0.41,-0.38),(-0.34,-0.28),(-0.26,-0.24),(-0.19,-0.16),(-0.11,-0.1),(-0.04,0.0),(0.04,0.06),(0.11,0.12),(0.19,0.18),(0.26,0.26),(0.34,0.33),(0.41,0.4),(0.49,0.44),(0.56,0.54),(0.64,0.6),(0.71,0.66),(0.79,0.72),(0.86,0.8),(0.93,0.86),(-0.6,-0.56),(0.0,0.04),(0.3,0.3),(0.6,0.57)]
C_PZ_T = [(-0.97,-0.9),(-0.9,-0.83),(-0.85,-0.76),(-0.75,-0.66),(-0.65,-0.62),(-0.55,-0.52),(-0.5,-0.48),(-0.4,-0.33),(-0.3,-0.25),(-0.2,-0.19),(-0.1,-0.08),(0.0,0.06),(0.1,0.12),(0.2,0.2),(0.3,0.3),(0.4,0.4),(0.5,0.45),(0.55,0.52),(0.65,0.6),(0.75,0.67),(0.85,0.76),(0.95,0.9)]
C_FX = [(-0.55,-0.4),(-0.5,-0.36),(-0.48,-0.42),(-0.45,-0.33),(-0.42,-0.38),(-0.4,-0.28),(-0.38,-0.35),(-0.36,-0.26),(-0.34,-0.32),(-0.32,-0.22),(-0.3,-0.3),(-0.28,-0.2),(-0.26,-0.26),(-0.24,-0.16),(-0.22,-0.24),(-0.2,-0.14),(-0.18,-0.2),(-0.16,-0.1),(-0.14,-0.18),(-0.12,-0.06),(-0.1,-0.14),(-0.08,-0.02),(-0.06,-0.1),(-0.04,0.02),(-0.02,-0.06),(0.0,0.05),(0.02,-0.02),(0.04,0.1),(0.06,0.02),(0.08,0.12),(0.1,0.06),(0.12,0.16),(0.14,0.08),(0.16,0.2),(0.18,0.12),(0.2,0.25),(0.22,0.15),(0.24,0.3),(0.26,0.2),(0.28,0.34),(0.3,0.24),(0.32,0.38),(0.34,0.3),(0.36,0.4),(0.38,0.32),(0.4,0.42),(0.43,0.36),(0.46,0.45),(0.5,0.4),(0.55,0.5),(-0.25,-0.21),(-0.15,-0.13),(-0.05,-0.03),(0.05,0.06),(0.15,0.14),(0.25,0.24),(-0.1,-0.09),(0.1,0.1),(0.2,0.19),(-0.2,-0.18)]
C_FX_CORE = [(-0.43,-0.36),(-0.37,-0.32),(-0.33,-0.28),(-0.29,-0.25),(-0.27,-0.22),(-0.23,-0.2),(-0.21,-0.17),(-0.17,-0.16),(-0.15,-0.12),(-0.13,-0.11),(-0.09,-0.07),(-0.07,-0.06),(-0.03,-0.01),(-0.01,0.01),(0.01,0.03),(0.03,0.04),(0.07,0.08),(0.09,0.09),(0.11,0.12),(0.13,0.13),(0.17,0.16),(0.19,0.18),(0.21,0.21),(0.23,0.22),(0.27,0.27),(0.29,0.3),(0.31,0.31),(0.35,0.34),(0.39,0.36),(0.45,0.4)]
C_FX_T = [(-0.38,-0.31),(-0.3,-0.24),(-0.2,-0.18),(-0.15,-0.15),(-0.1,-0.08),(-0.05,-0.04),(0.0,0.02),(0.05,0.06),(0.1,0.1),(0.15,0.14),(0.2,0.19),(0.25,0.25),(0.3,0.31),(0.37,0.36)]
C_FY = [(-0.95,-0.85),(-0.92,-0.88),(-0.88,-0.8),(-0.85,-0.72),(-0.8,-0.82),(-0.77,-0.7),(-0.74,-0.78),(-0.72,-0.62),(-0.7,-0.72),(-0.67,-0.6),(-0.65,-0.68),(-0.62,-0.52),(-0.6,-0.62),(-0.57,-0.48),(-0.55,-0.58),(-0.52,-0.45),(-0.5,-0.52),(-0.47,-0.4),(-0.45,-0.5),(-0.42,-0.35),(-0.4,-0.44),(-0.37,-0.3),(-0.35,-0.4),(-0.32,-0.26),(-0.3,-0.34),(-0.27,-0.2),(-0.25,-0.3),(-0.22,-0.15),(-0.2,-0.26),(-0.17,-0.1),(-0.15,-0.2),(-0.12,-0.06),(-0.1,-0.15),(-0.07,-0.02),(-0.05,-0.1),(-0.02,0.03),(0.0,-0.05),(0.03,0.08),(0.05,-0.02),(0.08,0.12),(0.1,0.04),(0.13,0.16),(0.15,0.08),(0.18,0.22),(0.2,0.12),(0.23,0.26),(0.25,0.16),(0.28,0.32),(0.3,0.22),(0.33,0.36),(0.35,0.18),(0.38,0.4),(0.4,0.3),(0.43,0.45),(0.45,0.35),(0.48,0.5),(0.5,0.4),(0.53,0.52),(0.55,0.46),(0.58,0.5),(0.62,0.52),(0.65,0.6),(0.7,0.65),(0.75,0.72),(0.8,0.77),(-0.6,-0.56),(-0.3,-0.29),(0.0,0.0),(0.3,0.27),(-0.45,-0.43),(0.15,0.13)]
C_FY_CORE = [(-0.75,-0.74),(-0.69,-0.64),(-0.63,-0.6),(-0.58,-0.54),(-0.53,-0.5),(-0.49,-0.46),(-0.44,-0.42),(-0.39,-0.38),(-0.34,-0.32),(-0.29,-0.28),(-0.24,-0.23),(-0.19,-0.19),(-0.14,-0.13),(-0.09,-0.1),(-0.04,-0.03),(0.01,0.0),(0.06,0.05),(0.11,0.08),(0.16,0.14),(0.21,0.18),(0.26,0.24),(0.31,0.28),(0.36,0.33),(0.41,0.36),(0.46,0.42),(0.51,0.46),(0.56,0.51),(0.61,0.55),(0.68,0.62),(0.74,0.68)]
C_FY_T = [(-0.72,-0.71),(-0.65,-0.6),(-0.55,-0.52),(-0.45,-0.44),(-0.35,-0.33),(-0.25,-0.25),(-0.15,-0.15),(-0.05,-0.06),(0.05,0.03),(0.15,0.12),(0.25,0.22),(0.35,0.31),(0.45,0.4),(0.58,0.53)]
C_FZ = [(0.32,0.28),(0.34,0.34),(0.36,0.3),(0.38,0.42),(0.4,0.36),(0.42,0.46),(0.43,0.38),(0.45,0.5),(0.46,0.42),(0.47,0.55),(0.48,0.46),(0.5,0.6),(0.51,0.48),(0.52,0.56),(0.53,0.45),(0.55,0.62),(0.56,0.52),(0.57,0.66),(0.58,0.55),(0.6,0.64),(0.61,0.54),(0.62,0.7),(0.63,0.6),(0.65,0.72),(0.66,0.6),(0.68,0.76),(0.69,0.64),(0.7,0.8),(0.72,0.68),(0.73,0.78),(0.75,0.7),(0.76,0.84),(0.78,0.72),(0.8,0.86),(0.81,0.75),(0.83,0.9),(0.85,0.78),(0.86,0.92),(0.88,0.82),(0.9,0.95),(0.91,0.84),(0.93,0.98),(0.95,0.88),(0.96,1.02),(0.98,0.92),(1.0,1.05),(1.01,0.83),(1.02,0.95),(1.04,1.08),(1.06,0.98),(1.08,1.1),(1.1,1.0),(1.12,1.15),(1.15,1.05),(1.18,1.2),(1.2,1.1),(1.22,1.0),(1.25,1.15),(1.3,1.22),(0.5,0.5),(0.6,0.6),(0.7,0.7),(0.8,0.79),(0.9,0.88),(1.0,0.97),(0.55,0.55),(0.65,0.65)]
C_FZ_CORE = [(0.41,0.42),(0.44,0.44),(0.47,0.48),(0.49,0.5),(0.52,0.52),(0.54,0.54),(0.57,0.57),(0.59,0.58),(0.62,0.62),(0.64,0.63),(0.67,0.67),(0.69,0.68),(0.72,0.71),(0.74,0.73),(0.77,0.76),(0.79,0.78),(0.82,0.8),(0.84,0.83),(0.87,0.86),(0.89,0.88),(0.92,0.9),(0.94,0.93),(0.97,0.95),(0.99,0.98),(1.02,1.0),(1.04,1.02),(1.07,1.04),(1.09,1.06),(1.13,1.08),(1.17,1.12)]
C_FZ_T = [(0.4,0.4),(0.45,0.46),(0.5,0.5),(0.55,0.55),(0.6,0.6),(0.65,0.65),(0.7,0.69),(0.75,0.74),(0.8,0.78),(0.85,0.84),(0.9,0.87),(0.95,0.94),(1.0,0.97),(1.05,1.02),(1.1,1.06),(1.2,1.12)]

ROWS = [
    (MAE_TACTIP, [(A_PX + A_PX_CORE, A_PX_T), (A_PY + A_PY_CORE, A_PY_T), (A_PZ + A_PZ_CORE, A_PZ_T),
                  (A_FX + A_FX_CORE, A_FX_T), (A_FY + A_FY_CORE, A_FY_T), (A_FZ + A_FZ_CORE, A_FZ_T)]),
    (MAE_VITAC, [(B_PX + B_PX_CORE, B_PX_T), (B_PY + B_PY_CORE, B_PY_T), (B_PZ + B_PZ_CORE, B_PZ_T),
                 (B_FX + B_FX_CORE, B_FX_T), (B_FY + B_FY_CORE, B_FY_T), (B_FZ + B_FZ_CORE, B_FZ_T)]),
    (MAE_VITACTIP, [(C_PX + C_PX_CORE, C_PX_T), (C_PY + C_PY_CORE, C_PY_T), (C_PZ + C_PZ_CORE, C_PZ_T),
                    (C_FX + C_FX_CORE, C_FX_T), (C_FY + C_FY_CORE, C_FY_T), (C_FZ + C_FZ_CORE, C_FZ_T)]),
]

# ---------------- styling / layout ----------------
TICKS_POS = [-8, -6, -4, -2, 0, 2, 4, 6, 8]
TICKS_UNIT = [-1.0, -0.75, -0.5, -0.25, 0.0, 0.25, 0.5, 0.75, 1.0]
SPECS = {
    #      name       sub  unit    xrange     xticks                    xd  yrange     yticks      yd
    "px": ("Position", "X", "(mm)", (-8, 8), [-5, 0, 5], 0, (-8, 8), TICKS_POS, 0),
    "py": ("Position", "Y", "(mm)", (-8, 8), [-5, 0, 5], 0, (-8, 8), TICKS_POS, 0),
    "pz": ("Position", "Z", "(mm)", (-1, 1), [-1, -0.5, 0, 0.5, 1], 1, (-1, 1), TICKS_UNIT, 2),
    "fx": ("Force", "X", "(N)", (-1, 1), [-1, -0.5, 0, 0.5, 1], 1, (-1, 1), TICKS_UNIT, 2),
    "fy": ("Force", "Y", "(N)", (-1, 1), [-1, -0.5, 0, 0.5, 1], 1, (-1, 1), TICKS_UNIT, 2),
    "fz": ("Force", "Z", "(N)", (0, 1.5), [0, 0.5, 1.0, 1.5], 1, (0, 1.5), [0, 0.2, 0.4, 0.6, 0.8, 1.0, 1.2, 1.4], 1),
}
FW, FH = 174, 215
FRAME_LEFT = [35, 260, 486, 712, 937, 1163]      # frame left edges (page px)
LEFT_B = [18, 18, 32, 32, 32, 19]                 # tick-label border of each panel
Y_STANDOFF = [3, 3, 2, 2, 2, 3]
RIGHT_B = [2, 2, 8, 8, 8, 10]
YLAB_CENTER = [10, 236, 446, 673, 899, 1137]      # y-label centre (page px)
ROW_TOP_B = [6, 6, 6]
BOT_B = 14
STRIP_H = [66, 66, 49]
TITLE_FROM_TOP = [35, 36, 35]
XLAB_BASE_FROM_TOP = 10
TOTAL_W = FRAME_LEFT[-1] + FW + RIGHT_B[-1]
TITLE_CX = 683

FS = 9.5
SUB_FS = FS * 0.7
SUB_DROP = 2.2
FONT = "DejaVu Sans"
TXT = "#1a1a1a"
W = {' ': .318, 'P': .603, 'r': .411, 'e': .615, 'd': .635, 'i': .278, 'c': .550, 't': .392,
     'T': .611, 'a': .613, 'g': .635, 'o': .612, 's': .521, 'n': .634, '(': .390, ')': .390,
     'm': .974, 'N': .748, 'F': .575, 'X': .686, 'Y': .611, 'Z': .686}


def tw(s, fs):
    return sum(W.get(ch, 0.6) for ch in s) * fs


def label_parts(prefix, name, sub, unit):
    """pieces as (text, style, size, offset-along-text, align, drop); no spaces inside pieces."""
    wsp = W[' '] * FS
    wp, wn, ws, wu = tw(prefix, FS), tw(name, FS), tw(sub, SUB_FS), tw(unit, FS)
    total = wp + wsp + wn + ws + wsp + wu
    parts = [(prefix, "normal", FS, wp, "right", 0.0),
             (name, "italic", FS, wp + wsp, "left", 0.0),
             (sub, "italic", SUB_FS, wp + wsp + wn, "left", SUB_DROP),
             (unit, "normal", FS, wp + wsp + wn + ws + wsp, "left", 0.0)]
    return parts, total


def fmt(dec):
    return CustomJSTickFormatter(args=dict(d=dec), code="""
        const s = Math.abs(tick).toFixed(d);
        return (tick < -1e-9 ? '\\u2212' : '') + s;
    """)


def blank_fig(w, h):
    p = figure(width=w, height=h, x_range=Range1d(0, w), y_range=Range1d(0, h),
               min_border=0, x_axis_location=None, y_axis_location=None,
               output_backend="svg", toolbar_location=None)
    p.grid.visible = False
    p.outline_line_color = None
    p.background_fill_color = "white"
    p.border_fill_color = "white"
    return p


def draw_text(p, x, y, t, style, fs, angle=0.0, align="left", baseline="alphabetic",
              font=FONT, color=TXT):
    src = ColumnDataSource(dict(x=[x], y=[y], t=[t]))
    p.text(x="x", y="y", text="t", source=src, angle=angle, text_font=value(font),
           text_font_style=value(style), text_font_size=value(f"{fs}px"),
           text_align=align, text_baseline=baseline, text_color=color)


def make_ylabel(kind, x0, w, h, cx_page):
    name, sub, unit = SPECS[kind][:3]
    parts, total = label_parts("Predicted", name, sub, unit)
    start = BOT_B + FH / 2 - total / 2
    base = (cx_page - x0) + 0.37 * FS
    p = blank_fig(w, h)
    for t, st, f, off, al, drop in parts:
        draw_text(p, base + drop, start + off, t, st, f, angle=math.pi / 2, align=al)
    return p


def make_panel(kind, pts, trend, mae, lb, rb, tb, ystand):
    name, sub, unit, xr, xt, xd, yr, yt, yd = SPECS[kind]
    p = figure(width=lb + FW + rb, height=tb + FH + BOT_B,
               min_border_left=lb, min_border_right=rb, min_border_top=tb, min_border_bottom=BOT_B,
               x_range=Range1d(*xr), y_range=Range1d(*yr),
               output_backend="svg", toolbar_location=None)
    p.background_fill_color = "white"
    p.border_fill_color = "white"
    p.outline_line_color = "#8c8c8c"
    p.outline_line_width = 1
    for ax, ticks, dec, sto in ((p.xaxis[0], xt, xd, 2), (p.yaxis[0], yt, yd, ystand)):
        ax.ticker = FixedTicker(ticks=ticks)
        ax.formatter = fmt(dec)
        ax.axis_line_color = None
        ax.major_tick_line_color = None
        ax.minor_tick_line_color = None
        ax.major_label_standoff = sto
        ax.major_label_text_font = FONT
        ax.major_label_text_font_size = f"{FS}px"
        ax.major_label_text_color = TXT
    p.grid.grid_line_color = "#d6d6d6"
    p.grid.grid_line_width = 1

    xs = [a for a, b in pts]
    ys = [b for a, b in pts]
    p.scatter(x=xs, y=ys, size=2.1, fill_color="black", fill_alpha=0.85, line_color=None)
    p.line(x=[a for a, b in trend], y=[b for a, b in trend], line_color="red", line_width=1.3)

    p.add_layout(Label(x=9, y=FH - 18, x_units="screen", y_units="screen", text=f"MAE={mae:.2f}",
                       text_font=FONT, text_font_size=f"{FS}px", text_baseline="middle",
                       text_color=TXT))
    return p


def make_strip(r):
    h = STRIP_H[r]
    p = blank_fig(TOTAL_W, h)
    for c, kind in enumerate(PANEL_KINDS):
        name, sub, unit = SPECS[kind][:3]
        parts, total = label_parts("Target", name, sub, unit)
        start = FRAME_LEFT[c] + FW / 2 - total / 2
        base = h - XLAB_BASE_FROM_TOP
        for t, st, f, off, al, drop in parts:
            draw_text(p, start + off, base - drop, t, st, f, align=al)
    draw_text(p, TITLE_CX, h - TITLE_FROM_TOP[r], ROW_TITLES[r], "bold italic", 20,
              align="center", baseline="middle", font="Liberation Sans", color="black")
    return p


items = []
for r, (maes, panels) in enumerate(ROWS):
    h = ROW_TOP_B[r] + FH + BOT_B
    children = []
    prev_end = 0
    for c, (kind, (pts, trend)) in enumerate(zip(PANEL_KINDS, panels)):
        panel_start = FRAME_LEFT[c] - LEFT_B[c]
        children.append(make_ylabel(kind, prev_end, panel_start - prev_end, h, YLAB_CENTER[c]))
        children.append(make_panel(kind, pts, trend, maes[c], LEFT_B[c], RIGHT_B[c],
                                   ROW_TOP_B[r], Y_STANDOFF[c]))
        prev_end = FRAME_LEFT[c] + FW + RIGHT_B[c]
    items.append(row(*children))
    items.append(make_strip(r))

layout = column(*items)
open("out.html", "w").write(file_html(layout, INLINE))
